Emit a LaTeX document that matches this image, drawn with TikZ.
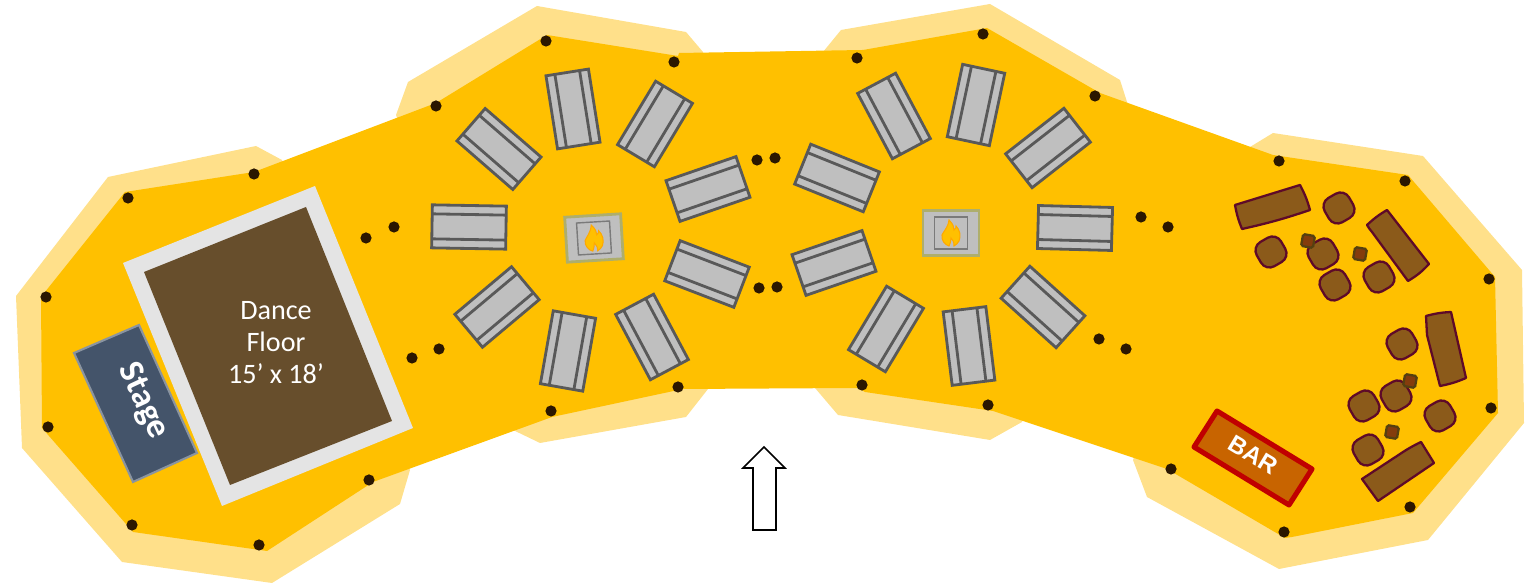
\documentclass[tikz,border=0pt]{standalone}
\usepackage{fontspec}
\setmainfont{Carlito}
\newfontfamily\barfont{Liberation Sans}
\definecolor{paleyard}{HTML}{FFE08A}
\definecolor{yard}{HTML}{FFC000}
\definecolor{floorrim}{HTML}{E4E4E4}
\definecolor{floorwood}{HTML}{674E2C}
\definecolor{stageblue}{HTML}{44546A}
\definecolor{stagerim}{HTML}{8A94A0}
\definecolor{tablegrey}{HTML}{BFBFBF}
\definecolor{tablerim}{HTML}{595959}
\definecolor{pitrim}{HTML}{AEAE6C}
\definecolor{flamedark}{HTML}{FFA800}
\definecolor{sofabrown}{HTML}{8B5A1A}
\definecolor{sofarim}{HTML}{5E0A28}
\definecolor{sidebrown}{HTML}{843C0C}
\definecolor{siderim}{HTML}{554010}
\definecolor{barorange}{HTML}{C86400}
\definecolor{barrim}{HTML}{C00000}
\definecolor{postdark}{HTML}{2B1700}
\tikzset{pale/.style={fill=paleyard,draw=none}}
\tikzset{yardfill/.style={fill=yard,draw=none}}
\tikzset{post/.style={fill=postdark,draw=none}}
\tikzset{tablebox/.style={fill=tablegrey,draw=tablerim,line width=.8pt}}
\tikzset{tablebar/.style={draw=tablerim,line width=.8pt}}
\tikzset{pitbox/.style={fill=tablegrey,draw=pitrim,line width=.8pt}}
\tikzset{pitgrate/.style={draw=tablerim!80,line width=.4pt}}
\tikzset{flame/.style={fill=yard,draw=flamedark,line width=.3pt}}
\tikzset{sofa/.style={fill=sofabrown,draw=sofarim,line width=.65pt,line join=round}}
\tikzset{stoolbox/.style={fill=sofabrown,draw=sofarim,line width=.65pt,rounded corners=2.8pt}}
\tikzset{sidebox/.style={fill=sidebrown,draw=siderim,line width=.65pt,rounded corners=.5pt}}
\newcommand{\picnictable}[3]{
  \begin{scope}[shift={(#1,#2)},rotate=-#3]
    \draw[tablebox] (-37,-21.5) rectangle (37,21.5);
    \draw[tablebar] (-37,-12.5) -- (37,-12.5);
    \draw[tablebar] (-37,12.5) -- (37,12.5);
  \end{scope}}
\newcommand{\firepit}[3]{
  \begin{scope}[shift={(#1,#2)},rotate=-#3]
    \draw[pitbox] (-28,-22.5) rectangle (28,22.5);
    \draw[pitgrate] (-16.5,-16) rectangle (16.5,16);
    \draw[flame] (-2,-13) .. controls (2,-9) and (3,-6) .. (3,-3)
      .. controls (5,-4) and (5,-6) .. (5,-7)
      .. controls (9,-3) and (10,3) .. (8,8)
      .. controls (7,10) and (5,12) .. (3,13)
      .. controls (3,9) and (2,7) .. (0,5)
      .. controls (0,8) and (-1,11) .. (-2,13)
      .. controls (-6,12) and (-10,7) .. (-9,2)
      .. controls (-8,-1) and (-3,-5) .. (-2,-13) -- cycle;
  \end{scope}}
\newcommand{\stool}[3]{
  \begin{scope}[shift={(#1,#2)},rotate=-#3]
    \draw[stoolbox] (-14,-14) rectangle (14,14);
  \end{scope}}
\newcommand{\sidetable}[2]{
  \begin{scope}[shift={(#1,#2)},rotate=-10]
    \draw[sidebox] (-6,-6) rectangle (6,6);
  \end{scope}}
\begin{document}
\begin{tikzpicture}[x=.01cm,y=-.01cm]
  \useasboundingbox (0,0) rectangle (1527,583);
  \fill[pale] (108,177) -- (256,146) -- (282,160) -- (410,470) -- (400,504) -- (272,583) -- (122,562) -- (22,448) -- (16,296) -- cycle;
  \fill[pale] (396,115) -- (408,82) -- (537,6) -- (686,32) -- (703,52) -- (708,389) -- (686,417) -- (540,443) -- (513,430) -- cycle;
  \fill[pale] (823,52) -- (841,30) -- (990,4) -- (1120,80) -- (1128,105) -- (1022,422) -- (990,440) -- (838,415) -- (815,388) -- cycle;
  \fill[pale] (1250,147) -- (1273,133) -- (1423,156) -- (1522,270) -- (1524,423) -- (1428,540) -- (1279,569) -- (1147,497) -- (1133,460) -- cycle;
  \fill[yardfill] (125,192) -- (254,172) -- (436,103) -- (547,35) -- (678,56) -- (679,53) -- (863,50) -- (987,28) -- (1100,93) -- (1273,155) -- (1408,175) -- (1495,277) -- (1498,413) -- (1413,513) -- (1292,537) -- (1285,538) -- (1167,469) -- (993,411) -- (865,392) -- (858,388) -- (683,389) -- (552,417) -- (373,482) -- (267,551) -- (133,532) -- (42,428) -- (41,297) -- cycle;
  \foreach \px/\py in {128/198,254/174,436/106,546/41,674/62,857/58,983/34,1095/96,1279/161,1405/181,1489/279,1491/408,1410/507,1284/532,1171/469,988/405,862/385,678/387,551/411,369/480,259/545,132/525,48/427,46/297,366/238,394/227,412/358,439/349,757/160,775/158,759/288,777/287,1141/217,1168/227,1099/339,1126/349}
    \fill[post] (\px,\py) circle (5.6);
  \fill[floorrim] (123,263) -- (315,186) -- (413,428) -- (222,506) -- cycle;
  \fill[floorwood] (144,272) -- (306,207) -- (392,421) -- (230,485) -- cycle;
  \node[text=white,align=center,inner sep=0pt,font=\fontsize{8}{9.1}\selectfont] (danceLabel) at (276,343) {Dance\\Floor\\15’ x 18’};
  \draw[fill=stageblue,draw=stagerim,line width=.6pt] (74,353) -- (139,325) -- (197,453) -- (133,482) -- cycle;
  \node[text=white,inner sep=0pt,rotate=-65,font=\fontsize{10}{12}\selectfont\bfseries] (stageLabel) at (143,401) {Stage};
  \foreach \tx/\ty/\ta in {469/227/1,499/149/41,573/109/81,655/124/121,708/189/-19,707/274/21,652/337/62,568/351/100,497/307/-40,1075/228/1.5,1048/148/-38,976/105/102,894/116/62,837/178/22,834/263/-19,886/329/121,969/346/83,1043/307/42}
    \picnictable{\tx}{\ty}{\ta};
  \firepit{594}{238}{-3.5}
  \firepit{951}{233}{0}
  \draw[sofa] (1235,205) -- (1300,185) to[bend left=6] (1310,210) to[bend left=3] (1242,229) to[bend left=6] cycle;
  \draw[sofa] (1387,210) -- (1429,264) to[bend left=8] (1408,281) -- (1372,232) to[bend left=5] (1367,225) to[bend left=6] cycle;
  \draw[sofa] (1426,316) to[bend left=6] (1451,312) -- (1466,378) to[bend left=6] (1440,386) -- (1427,335) -- cycle;
  \draw[sofa] (1421,442) -- (1434,463) -- (1378,501) -- (1362,479) -- (1400,454) to[bend left=4] cycle;
  \foreach \sx/\sy/\sa in {1339/208/-30,1271/252/-30,1323/254/-30,1335/285/-30,1379/277/-30,1402/344/-30,1396/396/-30,1364/406/-30,1440/416/-30,1368/450/-30}
    \stool{\sx}{\sy}{\sa};
  \foreach \sx/\sy in {1308/241,1360/254,1410/381,1392/432}
    \sidetable{\sx}{\sy};
  \draw[fill=barorange,draw=barrim,line width=1.45pt,line join=round] (1217,411) -- (1312,469) -- (1289,505) -- (1194,447) -- cycle;
  \node[text=white,inner sep=0pt,rotate=-31,font=\fontsize{6.9}{8}\selectfont\barfont\bfseries] (barLabel) at (1253,455) {BAR};
  \draw[fill=white,draw=black,line width=.45pt] (764,447) -- (785,468) -- (776,468) -- (776,530) -- (753,530) -- (753,468) -- (743,468) -- cycle;
\end{tikzpicture}
\end{document}
